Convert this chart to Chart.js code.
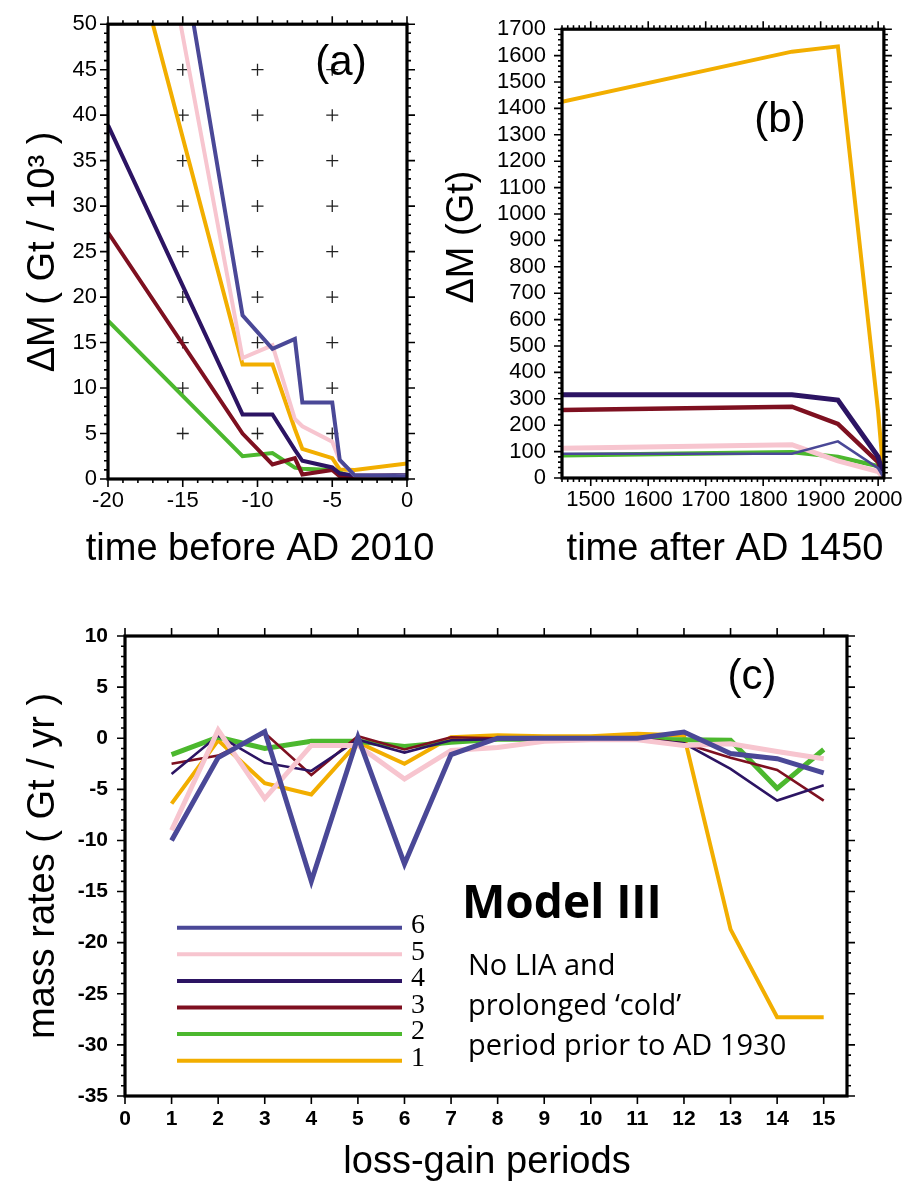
<!DOCTYPE html>
<html>
<head>
<meta charset="utf-8">
<script src="https://cdn.jsdelivr.net/npm/chart.js@4.4.1/dist/chart.umd.min.js"></script>
<style>
  body { margin: 0; background: #fff; }
  #wrap { position: relative; width: 912px; height: 1190px; }
  canvas { position: absolute; }
</style>
</head>
<body>
<div id="wrap">
  <canvas id="chartA" width="440" height="590" style="left:0;top:0"></canvas>
  <canvas id="chartB" width="472" height="590" style="left:440px;top:0"></canvas>
  <canvas id="chartC" width="912" height="600" style="left:0;top:590px"></canvas>
</div>
<script>
// run labels and colours, listed top-most first
const runs = ['6', '5', '4', '3', '2', '1']
const runColors = ['#4a4897', '#f7c5cf', '#2c1463', '#7e1020', '#4cb82e', '#f2ae00']

// (a) mass change in 10^3 Gt, years before AD 2010
const yearsBefore = [-20, -11, -9, -7.5, -7, -5, -4.5, -3.5, 0]
const massA6 = [106, 18.0, 14.3, 15.4, 8.4, 8.4, 2.1, 0.4, 0.3]
const massA5 = [93, 13.3, 14.7, 6.6, 5.8, 4.1, 2.05, 0.4, 0.3]
const massA4 = [38.9, 7.1, 7.1, 3.2, 2.0, 1.27, 0.6, 0.4, 0.4]
const massA3 = [27.1, 5.0, 1.6, 2.3, 0.5, 1.0, 0.3, 0.1, 0.1]
const massA2 = [17.4, 2.5, 2.85, 1.25, 1.13, 1.0, 0.7, 0.1, 0.1]
const massA1 = [68.7, 12.6, 12.6, 5.5, 3.3, 2.3, 1.05, 1.0, 1.7]
const crossX = [-15, -10, -5]
const crossY = [5, 10, 15, 20, 25, 30, 35, 40, 45]

// (b) mass change in Gt, years AD
const yearsAD = [1450, 1850, 1930, 2000, 2010]
const massB6 = [92, 92, 139, 37, 0]
const massB5 = [113, 126, 65, 24, 0]
const massB4 = [315, 315, 295, 80, 0]
const massB3 = [258, 270, 205, 60, 0]
const massB2 = [86, 98, 80, 45, 0]
const massB1 = [1425, 1615, 1635, 250, 0]

// (c) mass rates in Gt/yr per loss-gain period
const periods = [1, 2, 3, 4, 5, 6, 7, 8, 9, 10, 11, 12, 13, 14, 15]
const rate6 = [-10.0, -1.9, 0.65, -14.0, 0.1, -12.3, -1.6, 0, 0, 0, 0, 0.6, -1.5, -2.0, -3.4]
const rate5 = [-9.0, 0.8, -5.9, -0.7, -0.7, -4.0, -1.2, -0.9, -0.3, -0.15, -0.15, -0.7, -0.55, -1.3, -2.0]
const rate4 = [-3.5, 0.26, -2.4, -3.2, -0.15, -1.4, -0.2, -0.1, -0.1, -0.1, -0.1, -0.5, -3.0, -6.1, -4.6]
const rate3 = [-2.5, -1.7, 0.5, -3.6, 0.2, -1.1, 0.1, 0, 0, 0, 0, -0.5, -1.9, -3.1, -6.1]
const rate2 = [-1.6, 0.1, -1.0, -0.3, -0.3, -0.8, -0.4, -0.1, -0.1, -0.1, -0.1, -0.15, -0.2, -4.9, -1.1]
const rate1 = [-6.4, -0.2, -4.4, -5.5, -0.4, -2.5, 0.1, 0.3, 0.2, 0.2, 0.43, 0.26, -18.7, -27.3, -27.3]

const pairs = (xs, ys) => xs.map((x, i) => ({x, y: ys[i]}))

const SANS = '"Liberation Sans", Arial, sans-serif'

function lineSets(xs, series, widths) {
  return series.map((ys, i) => ({
    label: runs[i],
    data: pairs(xs, ys),
    borderColor: runColors[i],
    backgroundColor: runColors[i],
    borderWidth: widths[i],
    pointRadius: 0,
    tension: 0,
    borderJoinStyle: 'miter'
  }))
}

// frame plus outward ticks on all four sides
function frameTicks(t) {
  return {
    id: 'frameTicks',
    afterDraw(chart) {
      const {ctx, chartArea: a, scales: {x, y}} = chart
      const isMajor = (v, m) => Math.abs(v / m - Math.round(v / m)) < 1e-6
      ctx.save()
      ctx.strokeStyle = '#000'
      ctx.lineWidth = 1.6
      ctx.beginPath()
      for (let i = Math.ceil(x.min / t.xMinor - 1e-9); i * t.xMinor <= x.max + 1e-9; i++) {
        const v = i * t.xMinor
        const len = isMajor(v, t.xMajor) ? 8 : 4
        const px = x.getPixelForValue(v)
        ctx.moveTo(px, a.bottom); ctx.lineTo(px, a.bottom + len)
        ctx.moveTo(px, a.top); ctx.lineTo(px, a.top - len)
      }
      for (let i = Math.ceil(y.min / t.yMinor - 1e-9); i * t.yMinor <= y.max + 1e-9; i++) {
        const v = i * t.yMinor
        const len = isMajor(v, t.yMajor) ? 8 : 4
        const py = y.getPixelForValue(v)
        ctx.moveTo(a.left, py); ctx.lineTo(a.left - len, py)
        ctx.moveTo(a.right, py); ctx.lineTo(a.right + len, py)
      }
      ctx.stroke()
      ctx.lineWidth = 3.2
      ctx.strokeRect(a.left, a.top, a.right - a.left, a.bottom - a.top)
      ctx.restore()
    }
  }
}

// free text (titles, panel letters, notes), given in page coordinates
function textLayer(items, ox, oy) {
  return {
    id: 'textLayer',
    afterDraw(chart) {
      const ctx = chart.ctx
      ctx.save()
      ctx.fillStyle = '#000'
      items.forEach(it => {
        ctx.save()
        ctx.translate(it.x - ox, it.y - oy)
        if (it.rot) ctx.rotate(it.rot * Math.PI / 180)
        ctx.font = it.font
        ctx.textAlign = it.align || 'center'
        ctx.textBaseline = it.base || 'middle'
        ctx.fillText(it.t, 0, 0)
        ctx.restore()
      })
      ctx.restore()
    }
  }
}

function axes(o) {
  const tick = (pad, step) => ({
    stepSize: step, padding: pad, color: '#000', autoSkip: false, maxRotation: 0,
    includeBounds: false,
    font: {family: SANS, size: o.size, weight: o.weight},
    callback: v => (Number.isInteger(v) && v % step === 0) ? String(v) : ''
  })
  return {
    x: {
      type: 'linear', min: o.xMin, max: o.xMax,
      grid: {display: false, drawTicks: false}, border: {display: false},
      ticks: tick(o.xPad, o.xStep),
      afterFit: s => { s.height = o.xH }
    },
    y: {
      type: 'linear', min: o.yMin, max: o.yMax,
      grid: {display: false, drawTicks: false}, border: {display: false},
      ticks: tick(o.yPad, o.yStep),
      afterFit: s => { s.width = o.yW }
    }
  }
}

const common = {
  responsive: false,
  animation: false,
  events: [],
  plugins: {legend: {display: false}, tooltip: {enabled: false}}
}

const TITLE = '38px ' + SANS
const LETTER = '42px ' + SANS

// ---- (a)
const setsA = lineSets(yearsBefore, [massA6, massA5, massA4, massA3, massA2, massA1], [4, 4, 4, 4, 4, 4])
setsA.push({
  type: 'scatter',
  data: crossX.flatMap(x => crossY.map(y => ({x, y}))),
  pointStyle: 'cross', pointRadius: 6, borderWidth: 1.3,
  borderColor: '#222', backgroundColor: '#222', showLine: false
})
new Chart(document.getElementById('chartA'), {
  type: 'line',
  data: {datasets: setsA},
  options: Object.assign({}, common, {
    layout: {padding: {top: 17, right: 33, left: 0, bottom: 0}},
    scales: axes({xMin: -20, xMax: 0, xStep: 5, yMin: 0, yMax: 50, yStep: 5,
      size: 22, xPad: 9, yPad: 11, xH: 111, yW: 108})
  }),
  plugins: [
    frameTicks({xMajor: 5, xMinor: 1, yMajor: 5, yMinor: 1}),
    textLayer([
      {t: '(a)', x: 341, y: 63, font: LETTER},
      {t: 'ΔM ( Gt / 10³ )', x: 44, y: 252, rot: -90, font: TITLE},
      {t: 'time before AD 2010', x: 260, y: 550, font: TITLE}
    ], 0, 0)
  ]
})

// ---- (b)
new Chart(document.getElementById('chartB'), {
  type: 'line',
  data: {datasets: lineSets(yearsAD, [massB6, massB5, massB4, massB3, massB2, massB1], [2.6, 5, 5, 4.5, 4.5, 4])},
  options: Object.assign({}, common, {
    layout: {padding: {top: 17, right: 22, left: 0, bottom: 0}},
    scales: axes({xMin: 1450, xMax: 2010, xStep: 100, yMin: 0, yMax: 1700, yStep: 100,
      size: 22, xPad: 9, yPad: 16, xH: 112, yW: 122})
  }),
  plugins: [
    frameTicks({xMajor: 100, xMinor: 10, yMajor: 100, yMinor: 20}),
    textLayer([
      {t: '(b)', x: 780, y: 120, font: LETTER},
      {t: 'ΔM (Gt)', x: 463, y: 237, rot: -90, font: TITLE},
      {t: 'time after AD 1450', x: 725, y: 550, font: TITLE}
    ], 440, 0)
  ]
})

// ---- (c)
const legendLines = {
  id: 'legendLines',
  afterDraw(chart) {
    const ctx = chart.ctx
    ctx.save()
    chart.data.datasets.forEach((ds, i) => {
      const y = 337.7 + i * 26.6
      ctx.strokeStyle = ds.borderColor
      ctx.lineWidth = 4
      ctx.beginPath()
      ctx.moveTo(177, y); ctx.lineTo(402, y)
      ctx.stroke()
      ctx.fillStyle = '#000'
      ctx.font = '28px "Liberation Serif", serif'
      ctx.textAlign = 'left'
      ctx.textBaseline = 'middle'
      ctx.fillText(ds.label, 411, y - 2)
    })
    ctx.restore()
  }
}

new Chart(document.getElementById('chartC'), {
  type: 'line',
  data: {datasets: lineSets(periods, [rate6, rate5, rate4, rate3, rate2, rate1], [5, 5, 2.6, 2.6, 5, 4])},
  options: Object.assign({}, common, {
    layout: {padding: {top: 46, right: 65, left: 0, bottom: 0}},
    scales: axes({xMin: 0, xMax: 15.5, xStep: 1, yMin: -35, yMax: 10, yStep: 5,
      size: 21, weight: 'bold', xPad: 11, yPad: 17, xH: 94, yW: 125})
  }),
  plugins: [
    frameTicks({xMajor: 1, xMinor: 1, yMajor: 5, yMinor: 1}),
    legendLines,
    textLayer([
      {t: '(c)', x: 752, y: 677, font: LETTER},
      {t: 'mass rates ( Gt / yr )', x: 44, y: 866, rot: -90, font: TITLE},
      {t: 'loss-gain periods', x: 487, y: 1163, font: TITLE},
      {t: 'Model III', x: 462, y: 918, align: 'left', base: 'alphabetic', font: 'bold 46px "Open Sans", sans-serif'},
      {t: 'No LIA and', x: 468, y: 975, align: 'left', base: 'alphabetic', font: '29px "Open Sans", sans-serif'},
      {t: 'prolonged \u2018cold\u2019', x: 468, y: 1015, align: 'left', base: 'alphabetic', font: '29px "Open Sans", sans-serif'},
      {t: 'period prior to AD 1930', x: 468, y: 1055, align: 'left', base: 'alphabetic', font: '29px "Open Sans", sans-serif'}
    ], 0, 590)
  ]
})
</script>
</body>
</html>
